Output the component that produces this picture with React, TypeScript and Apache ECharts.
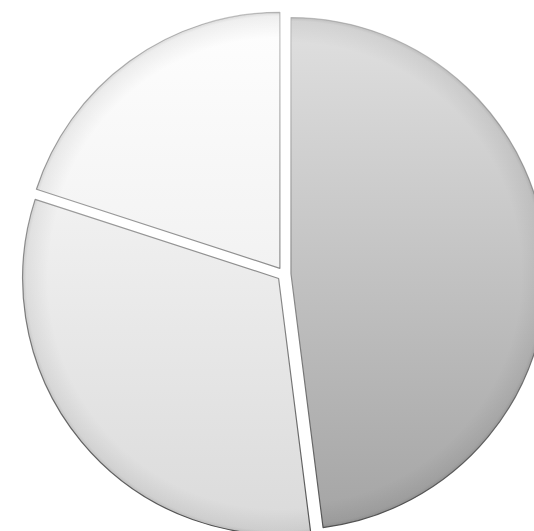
import React, { useEffect, useRef } from "react";
import * as echarts from "echarts";

const categories = [
  "Faire-valoir\nindirect",
  "Faire-valoir\ndirect",
  "Statut\njuridique\nnon déclaré",
];
const values = [48, 32, 20];
const boldLabels = [true, false, true];

const SERIF = "Liberation Serif";

export default function App() {
  const ref = useRef<HTMLDivElement>(null);
  useEffect(() => {
    if (!ref.current) return;
    const chart = echarts.init(ref.current, null, { renderer: "svg" });
    const cx = 284;
    const cy = 274;
    const R = 256;
    const explode = 7;
    const lineGap = 37;
    const fontSize = 30;
    const grad = (top: string, bottom: string) =>
      new echarts.graphic.LinearGradient(0, cy - R, 0, cy + R, [
        { offset: 0, color: top },
        { offset: 1, color: bottom },
      ], true);
    const fills = [
      grad("#e0e0e0", "#a4a4a4"),
      grad("#fdfdfd", "#dadada"),
      grad("#fefefe", "#e6e6e6"),
    ];
    const rim = new echarts.graphic.RadialGradient(cx, cy, R, [
      { offset: 0, color: "rgba(0,0,0,0)" },
      { offset: 0.9, color: "rgba(0,0,0,0)" },
      { offset: 0.985, color: "rgba(0,0,0,0.06)" },
      { offset: 1, color: "rgba(0,0,0,0.14)" },
    ], true);
    const border = new echarts.graphic.LinearGradient(0, cy - R, 0, cy + R, [
      { offset: 0, color: "#c4c4c4" },
      { offset: 1, color: "#555555" },
    ], true);
    const canvas = document.createElement("canvas");
    const ctx = canvas.getContext("2d");
    const measure = (text: string, font: string) => {
      if (!ctx) return text.length * fontSize * 0.5;
      ctx.font = font;
      return ctx.measureText(text).width;
    };
    // label nudges relative to the usual "inside" spot (half radius on the mid-angle)
    const nudges = [
      [-8, -14],
      [-14, -8],
      [-22, -46],
    ];
    const total = values.reduce((a, b) => a + b, 0);
    let acc = 0;
    const labels: any[] = [];
    values.forEach((v, i) => {
      const mid = ((acc + v / 2) / total) * Math.PI * 2; // clockwise from 12 o'clock
      acc += v;
      const dx = Math.sin(mid);
      const dy = -Math.cos(mid);
      const dist = explode + R / 2;
      const pct = Math.round((v / total) * 100);
      const lx = cx + dist * dx + nudges[i][0];
      const ly = cy + dist * dy + nudges[i][1];
      const lines = categories[i].split("\n").concat([pct + "%"]);
      const font = (boldLabels[i] ? "bold " : "") + fontSize + "px " + SERIF;
      lines.forEach((line, j) => {
        const w = measure(line, font);
        const yc = ly + (j - (lines.length - 1) / 2) * lineGap;
        labels.push({
          type: "text",
          left: Math.round(lx - w / 2),
          top: Math.round(yc - fontSize / 2),
          style: {
            text: line,
            font,
            fill: "#000000",
          },
        });
      });
    });
    const base = {
      type: "pie",
      center: [cx, cy],
      radius: R,
      startAngle: 90,
      clockwise: true,
      selectedMode: "multiple",
      selectedOffset: explode,
      emphasis: { disabled: true },
      label: { show: false },
      labelLine: { show: false },
    };
    chart.setOption({
      animation: false,
      backgroundColor: "#ffffff",
      graphic: labels,
      series: [
        {
          ...base,
          data: categories.map((name, i) => ({
            name,
            value: values[i],
            selected: true,
            itemStyle: {
              color: fills[i],
              borderColor: border,
              borderWidth: 1.2,
            },
          })),
        },
        {
          ...base,
          silent: true,
          data: categories.map((name, i) => ({
            name,
            value: values[i],
            selected: true,
            itemStyle: { color: rim, borderWidth: 0 },
          })),
        },
      ],
    });
    return () => chart.dispose();
  }, []);
  return (
    <div
      ref={ref}
      style={{ position: "fixed", left: 0, top: 0, width: 534, height: 531 }}
    />
  );
}
